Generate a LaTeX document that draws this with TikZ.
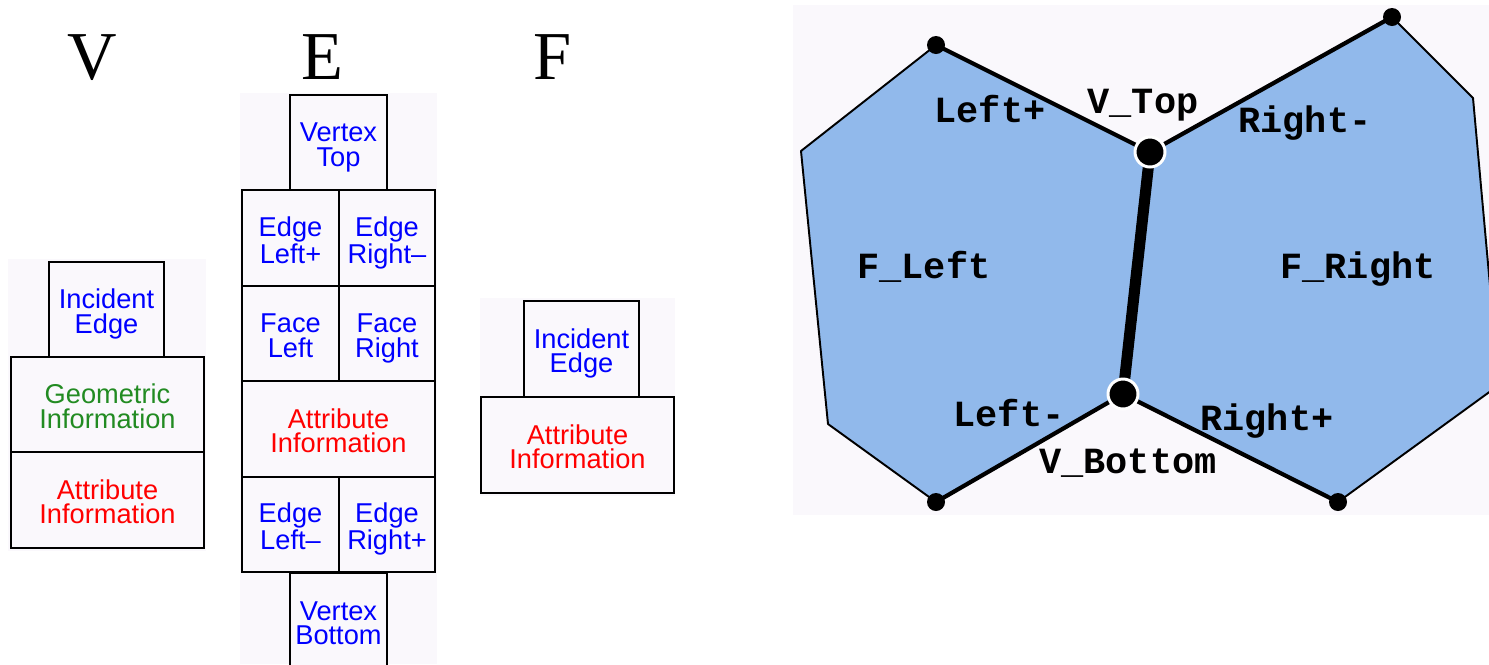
\documentclass[tikz,border=0pt]{standalone}
\usepackage{fontspec}
\setmainfont{Liberation Serif}
\setsansfont{Liberation Sans}
\setmonofont{Liberation Mono}
\usepackage{tikz}
\usetikzlibrary{positioning, calc}
\definecolor{panelbg}{RGB}{250,248,252}
\definecolor{faceblue}{RGB}{145,185,235}
\definecolor{txtblue}{RGB}{0,0,255}
\definecolor{txtgreen}{RGB}{34,139,34}
\definecolor{txtred}{RGB}{255,0,0}
\newcommand{\two}[3]{\rule{0pt}{17.5pt}\color{#1}#2\\\color{#1}#3\strut}

\begin{document}
\begin{tikzpicture}[x=0.02cm,y=-0.02cm,
  cell/.style={draw=black, line width=1.3pt, fill=panelbg, inner sep=0pt,
    minimum height=1.91cm, align=center,
    font=\sffamily\fontsize{15.5}{14}\selectfont},
  sq/.style={cell, minimum width=1.93cm},
  mid/.style={cell, minimum width=2.3cm},
  wide/.style={cell, minimum width=3.86cm},
  big/.style={anchor=base, font=\fontsize{39}{39}\selectfont},
  lbl/.style={anchor=base, font=\ttfamily\bfseries\fontsize{21}{21}\selectfont},
  smalldot/.style={circle, fill=black, inner sep=0pt, minimum size=0.36cm},
  bigdot/.style={circle, fill=black, draw=white, line width=1.7pt, inner sep=0pt, minimum size=0.6cm}]

\useasboundingbox (0,0) rectangle (1489,664);

% --- Sfondi
\fill[panelbg] (8,259) rectangle (206,551);
\fill[panelbg] (240,93) rectangle (437,664);
\fill[panelbg] (480,298) rectangle (675,496);
\fill[panelbg] (793,5) rectangle (1489,515);

% --- Titoli
\node[big] (tV) at (92,79) {V};
\node[big] (tE) at (322,79) {E};
\node[big] (tF) at (553,79) {F};

% --- Record V
\node[mid]  (vInc)  at (106.5,309.5) {\two{txtblue}{Incident}{Edge}};
\node[wide] (vGeom) at (107.5,404.5) {\two{txtgreen}{Geometric}{Information}};
\node[wide] (vAttr) at (107.5,500)   {\two{txtred}{Attribute}{Information}};

% --- Record E
\node[sq]   (eTop)    at (338.5,142.5) {\two{txtblue}{Vertex}{Top}};
\node[sq]   (eLeftP)  at (290.5,238)   {\two{txtblue}{Edge}{Left+}};
\node[sq]   (eRightM) at (387,238)     {\two{txtblue}{Edge}{Right--}};
\node[sq]   (eFaceL)  at (290.5,333.5) {\two{txtblue}{Face}{Left}};
\node[sq]   (eFaceR)  at (387,333.5)   {\two{txtblue}{Face}{Right}};
\node[wide] (eAttr)   at (338.5,429)   {\two{txtred}{Attribute}{Information}};
\node[sq]   (eLeftM)  at (290.5,524.5) {\two{txtblue}{Edge}{Left--}};
\node[sq]   (eRightP) at (387,524.5)   {\two{txtblue}{Edge}{Right+}};
\node[sq]   (eBottom) at (338.5,621)   {\two{txtblue}{Vertex}{Bottom}};

% --- Record F
\node[mid]  (fInc)  at (581.5,349) {\two{txtblue}{Incident}{Edge}};
\node[wide] (fAttr) at (577.5,445) {\two{txtred}{Attribute}{Information}};

% --- Vertici delle facce
\coordinate (vt) at (1150,152);
\coordinate (vb) at (1123,394);
\coordinate (pA) at (936,45);
\coordinate (pB) at (801,151);
\coordinate (pC) at (828,424);
\coordinate (pD) at (936,502);
\coordinate (pE) at (1392,17);
\coordinate (pF) at (1473,98);
\coordinate (pG) at (1499,385);
\coordinate (pH) at (1338,502);

% --- Facce
\begin{scope}
\clip (793,5) rectangle (1489,515);
\fill[faceblue] (vt) -- (pA) -- (pB) -- (pC) -- (pD) -- (vb) -- cycle;
\fill[faceblue] (vt) -- (pE) -- (pF) -- (pG) -- (pH) -- (vb) -- cycle;
\draw[line width=1.1pt, line join=round] (pA) -- (pB) -- (pC) -- (pD);
\draw[line width=1.1pt, line join=round] (pE) -- (pF) -- (pG) -- (pH);
\end{scope}

% --- Spigoli
\draw[line width=2.4pt] (pA) -- (vt) -- (pE);
\draw[line width=2.4pt] (pD) -- (vb) -- (pH);
\draw[line width=6.3pt] (vt) -- (vb);

% --- Punti
\foreach \p in {pA,pD,pE,pH}
  \node[smalldot] (d\p) at (\p) {};
\node[bigdot] (dTop) at (vt) {};
\node[bigdot] (dBot) at (vb) {};

% --- Etichette
\node[lbl] (lLeftP)  at (990,122)  {Left+};
\node[lbl] (lVTop)   at (1143,113) {V\_Top};
\node[lbl] (lRightM) at (1305,132) {Right-};
\node[lbl] (lFLeft)  at (924,278)  {F\_Left};
\node[lbl] (lFRight) at (1358,278) {F\_Right};
\node[lbl] (lLeftM)  at (1009,426) {Left-};
\node[lbl] (lVBot)   at (1128,473) {V\_Bottom};
\node[lbl] (lRightP) at (1267,430) {Right+};

\end{tikzpicture}
\end{document}
